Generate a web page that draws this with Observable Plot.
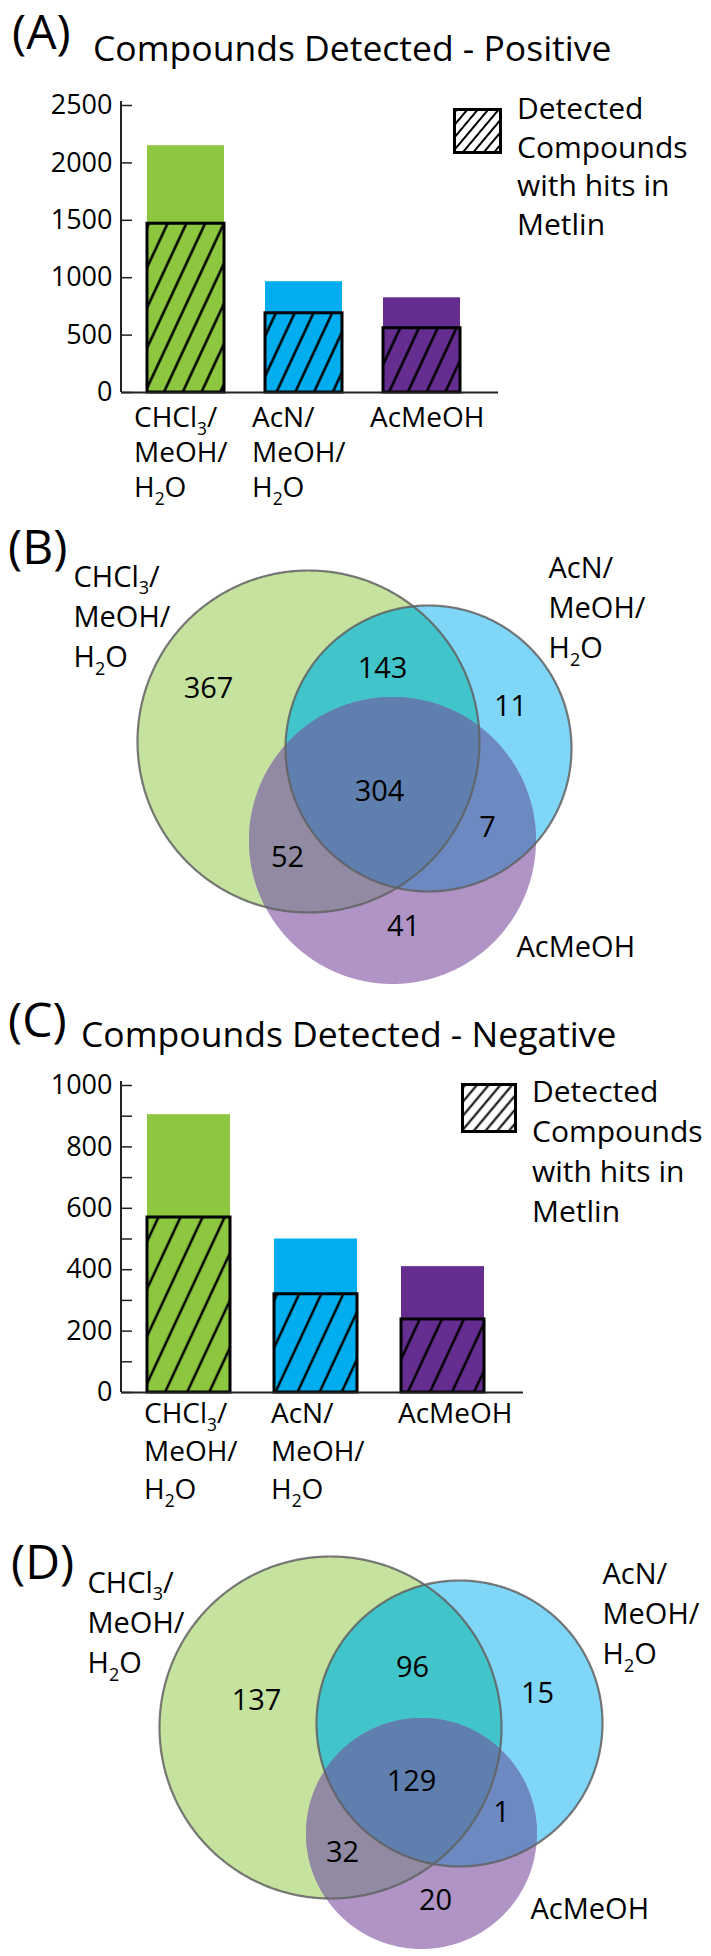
<!DOCTYPE html>
<html>
<head>
<meta charset="utf-8">
<script src="https://cdn.jsdelivr.net/npm/d3@7"></script>
<script src="https://cdn.jsdelivr.net/npm/@observablehq/plot@0.6"></script>
<style>
  html, body { margin: 0; padding: 0; background: #fff; }
  body { width: 711px; height: 1956px; position: relative; overflow: hidden; font-family: "Open Sans", sans-serif; color: #000; }
  .abs { position: absolute; white-space: nowrap; line-height: 1; }
  .panel { font-size: 48px; }
  .title { font-size: 35.5px; }
  .legtxt { position: absolute; font-size: 30px; white-space: nowrap; }
  .holder { position: absolute; left: 0; }
  .holder svg { display: block; }
</style>
</head>
<body>
<div class="abs panel" style="left:12px;top:7px">(A)</div>
<div class="abs title" style="left:93px;top:30px">Compounds Detected - Positive</div>
<div id="legA" style="position:absolute;left:453px;top:108px"></div>
<div class="legtxt" style="left:517px;top:89px;line-height:38.5px">Detected<br>Compounds<br>with hits in<br>Metlin</div>
<div id="chartA" class="holder" style="top:80px"></div>

<div class="abs panel" style="left:8px;top:522px">(B)</div>
<div id="chartB" class="holder" style="top:515px"></div>

<div class="abs panel" style="left:8px;top:995px">(C)</div>
<div class="abs title" style="left:81px;top:1016px">Compounds Detected - Negative</div>
<div id="legC" style="position:absolute;left:461px;top:1083px"></div>
<div class="legtxt" style="left:532px;top:1071px;line-height:40px">Detected<br>Compounds<br>with hits in<br>Metlin</div>
<div id="chartC" class="holder" style="top:1060px"></div>

<div class="abs panel" style="left:11px;top:1537px">(D)</div>
<div id="chartD" class="holder" style="top:1525px"></div>

<script>
// ---------------- data ----------------
const solvents = ["CHCl₃/\nMeOH/\nH₂O", "AcN/\nMeOH/\nH₂O", "AcMeOH"];
const barColors = ["#8DC63F", "#00AEEF", "#662D91"];

// Positive mode
const posTotal = [2150, 965, 825];
const posMetlin = [1470, 690, 560];
const posTicks = [0, 500, 1000, 1500, 2000, 2500];

// Negative mode
const negTotal = [905, 500, 410];
const negMetlin = [570, 320, 238];
const negTicks = [0, 200, 400, 600, 800, 1000];
const negMinorTicks = [100, 300, 500, 700, 900];

// Venn regions: G = CHCl3/MeOH/H2O, B = AcN/MeOH/H2O, P = AcMeOH
const vennRegions = ["G", "GB", "B", "GBP", "BP", "GP", "P"];
const vennPosCounts = [367, 143, 11, 304, 7, 52, 41];
const vennNegCounts = [137, 96, 15, 129, 1, 32, 20];

// Venn layout (circle centre/radius, label anchors) in each panel's own units
const vennPosLayout = {
  circles: [[308, 226, 171], [428, 233, 143], [392, 325, 143.5]],
  counts: [[208, 173], [382, 153], [510, 191], [379, 276], [487, 312], [287, 342], [403, 411]],
  labels: [[73, 71], [548, 62], [516, 441]]
};
const vennNegLayout = {
  circles: [[330, 202, 171], [459, 198, 143], [421, 308, 115.5]],
  counts: [[256, 175], [412, 142], [537, 168], [411, 256], [501, 287], [342, 327], [435, 375]],
  labels: [[87, 67], [602, 58], [530, 393]]
};

// ---------------- helpers ----------------
const svgNS = "http://www.w3.org/2000/svg";

function hatchDefs(id, spacing, angle, width) {
  const defs = document.createElementNS(svgNS, "defs");
  const pat = document.createElementNS(svgNS, "pattern");
  pat.setAttribute("id", id);
  pat.setAttribute("patternUnits", "userSpaceOnUse");
  pat.setAttribute("width", spacing);
  pat.setAttribute("height", spacing);
  pat.setAttribute("patternTransform", `rotate(${angle})`);
  const line = document.createElementNS(svgNS, "line");
  line.setAttribute("x1", spacing / 2); line.setAttribute("x2", spacing / 2);
  line.setAttribute("y1", -2); line.setAttribute("y2", spacing + 2);
  line.setAttribute("stroke", "#000"); line.setAttribute("stroke-width", width);
  pat.appendChild(line);
  defs.appendChild(pat);
  return defs;
}

function subscriptify(root) {
  const map = {"₂": "2", "₃": "3"};
  const walker = document.createTreeWalker(root, NodeFilter.SHOW_TEXT);
  const nodes = [];
  while (walker.nextNode()) if (/[₂₃]/.test(walker.currentNode.nodeValue)) nodes.push(walker.currentNode);
  for (const node of nodes) {
    const parts = node.nodeValue.split(/([₂₃])/);
    const frag = document.createDocumentFragment();
    for (const p of parts) {
      if (!p) continue;
      if (map[p]) {
        const t = document.createElementNS(svgNS, "tspan");
        t.setAttribute("font-size", "0.62em");
        t.setAttribute("baseline-shift", "-8px");
        t.textContent = map[p];
        frag.appendChild(t);
      } else frag.appendChild(document.createTextNode(p));
    }
    node.parentNode.replaceChild(frag, node);
  }
}

function legendBox(el, w, h, id, spacing) {
  const s = document.createElementNS(svgNS, "svg");
  s.setAttribute("width", w); s.setAttribute("height", h);
  s.appendChild(hatchDefs(id, spacing, 40, 2));
  const r = document.createElementNS(svgNS, "rect");
  r.setAttribute("x", 1.5); r.setAttribute("y", 1.5);
  r.setAttribute("width", w - 3); r.setAttribute("height", h - 3);
  r.setAttribute("fill", `url(#${id})`); r.setAttribute("stroke", "#000"); r.setAttribute("stroke-width", 3);
  s.appendChild(r);
  el.appendChild(s);
}

const axisLine = (index, scales, values, dims) => {
  const l = document.createElementNS(svgNS, "line");
  l.setAttribute("x1", dims.marginLeft); l.setAttribute("x2", dims.marginLeft);
  l.setAttribute("y1", dims.marginTop - 4); l.setAttribute("y2", dims.height - dims.marginBottom);
  l.setAttribute("stroke", "#222"); l.setAttribute("stroke-width", 2);
  return l;
};

function barChart(o) {
  const rows = solvents.map((s, i) => ({solvent: s, total: o.totals[i], metlin: o.metlin[i]}));
  const svg = Plot.plot({
    width: 711, height: o.height,
    marginTop: o.marginTop, marginBottom: o.marginBottom, marginLeft: 121, marginRight: o.marginRight,
    style: {fontFamily: "Open Sans", fontSize: "27px", color: "#000", background: "transparent", overflow: "visible"},
    x: {type: "band", domain: solvents, paddingInner: o.padIn, paddingOuter: o.padOut, align: 0.4, axis: null},
    y: {domain: [0, o.yMax], axis: null, label: null},
    color: {domain: solvents, range: barColors},
    marks: [
      Plot.barY(rows, {x: "solvent", y: "total", fill: "solvent"}),
      Plot.barY(rows, {x: "solvent", y: "metlin", fill: `url(#${o.hatchId})`, stroke: "#000", strokeWidth: 3}),
      Plot.ruleY([0], {stroke: "#222", strokeWidth: 2}),
      axisLine,
      o.minorTicks ? Plot.axisY({ticks: o.minorTicks, tickSize: -11, tickFormat: () => "", label: null, stroke: "#222", strokeWidth: 1.5}) : null,
      Plot.axisY({ticks: o.ticks, tickSize: -11, tickPadding: 20, tickFormat: d => String(d), label: null, fontSize: 27, stroke: "#222", fill: "#000", strokeWidth: 1.5}),
      Plot.text(solvents, {x: d => d, frameAnchor: "bottom", lineAnchor: "top", textAnchor: "start",
        dx: o.labelDx, dy: o.labelDy, fontSize: 28, lineHeight: o.lineHeight, fill: "#000"})
    ]
  });
  svg.insertBefore(hatchDefs(o.hatchId, o.hatchSpacing, 25, 2.5), svg.firstChild);
  subscriptify(svg);
  return svg;
}

const regionColors = {G: "#C5E29F", B: "#7FD6F7", P: "#B094C6", GB: "#41C5CA", GP: "#918AA2", BP: "#6C89C2", GBP: "#5F7FAE"};
const setIndex = {G: 0, B: 1, P: 2};

function vennChart(layout, counts, H) {
  const N = 720;
  const circlePts = ([cx, cy, r]) => d3.range(N + 1).map(k => {
    const t = 2 * Math.PI * k / N;
    return [cx + r * Math.cos(t), cy + r * Math.sin(t)];
  });
  const inside = (p, [cx, cy, r]) => (p[0] - cx) ** 2 + (p[1] - cy) ** 2 <= r * r + 1e-6;
  const regionPts = (key) => {
    const idx = key.split("").map(c => setIndex[c]);
    if (idx.length === 1) return circlePts(layout.circles[idx[0]]);
    const pts = [];
    idx.forEach(i => circlePts(layout.circles[i]).slice(0, N).forEach(p => {
      if (idx.every(j => j === i || inside(p, layout.circles[j]))) pts.push(p);
    }));
    const mx = d3.mean(pts, p => p[0]), my = d3.mean(pts, p => p[1]);
    pts.sort((a, b) => Math.atan2(a[1] - my, a[0] - mx) - Math.atan2(b[1] - my, b[0] - mx));
    pts.push(pts[0]);
    return pts;
  };
  const order = ["G", "B", "P", "GB", "GP", "BP", "GBP"];
  const countRows = vennRegions.map((k, i) => ({x: layout.counts[i][0], y: layout.counts[i][1], text: String(counts[i])}));
  const labelRows = solvents.map((s, i) => ({x: layout.labels[i][0], y: layout.labels[i][1], text: s}));
  const fs = 29, lh = 1.38;
  const svg = Plot.plot({
    width: 711, height: H, margin: 0,
    style: {fontFamily: "Open Sans", fontSize: "29px", color: "#000", background: "transparent", overflow: "visible"},
    x: {domain: [0, 711], range: [0, 711], axis: null},
    y: {domain: [0, H], range: [0, H], axis: null},
    marks: [
      ...order.map(k => Plot.line(regionPts(k), {x: p => p[0], y: p => p[1], fill: regionColors[k], stroke: "none", curve: "linear"})),
      ...[0, 1].map(i => Plot.line(circlePts(layout.circles[i]), {x: p => p[0], y: p => p[1], fill: "none", stroke: "#626262", strokeOpacity: 0.85, strokeWidth: 2.2, curve: "linear"})),
      Plot.text(countRows, {x: "x", y: "y", text: "text", fontSize: fs, lineAnchor: "middle", fill: "#000"}),
      Plot.text(labelRows, {x: "x", y: "y", text: "text", fontSize: fs, textAnchor: "start", lineAnchor: "top",
        lineHeight: lh, dy: -0.71 * lh * fs, fill: "#000"})
    ]
  });
  subscriptify(svg);
  return svg;
}

// ---------------- render ----------------
document.getElementById("chartA").appendChild(barChart({
  totals: posTotal, metlin: posMetlin, ticks: posTicks, minorTicks: null, yMax: 2500,
  height: 430, marginTop: 25, marginBottom: 118, marginRight: 213,
  padIn: 0.35, padOut: 0.27, hatchId: "hatchA", hatchSpacing: 17,
  labelDx: -52, labelDy: 10, lineHeight: 1.25
}));
document.getElementById("chartC").appendChild(barChart({
  totals: negTotal, metlin: negMetlin, ticks: negTicks, minorTicks: negMinorTicks, yMax: 1000,
  height: 460, marginTop: 25, marginBottom: 128, marginRight: 188,
  padIn: 0.345, padOut: 0.255, hatchId: "hatchC", hatchSpacing: 20,
  labelDx: -45, labelDy: 3, lineHeight: 1.36
}));
document.getElementById("chartB").appendChild(vennChart(vennPosLayout, vennPosCounts, 475));
document.getElementById("chartD").appendChild(vennChart(vennNegLayout, vennNegCounts, 431));
legendBox(document.getElementById("legA"), 49, 46, "hatchLegA", 8);
legendBox(document.getElementById("legC"), 56, 50, "hatchLegC", 9);
</script>
</body>
</html>
